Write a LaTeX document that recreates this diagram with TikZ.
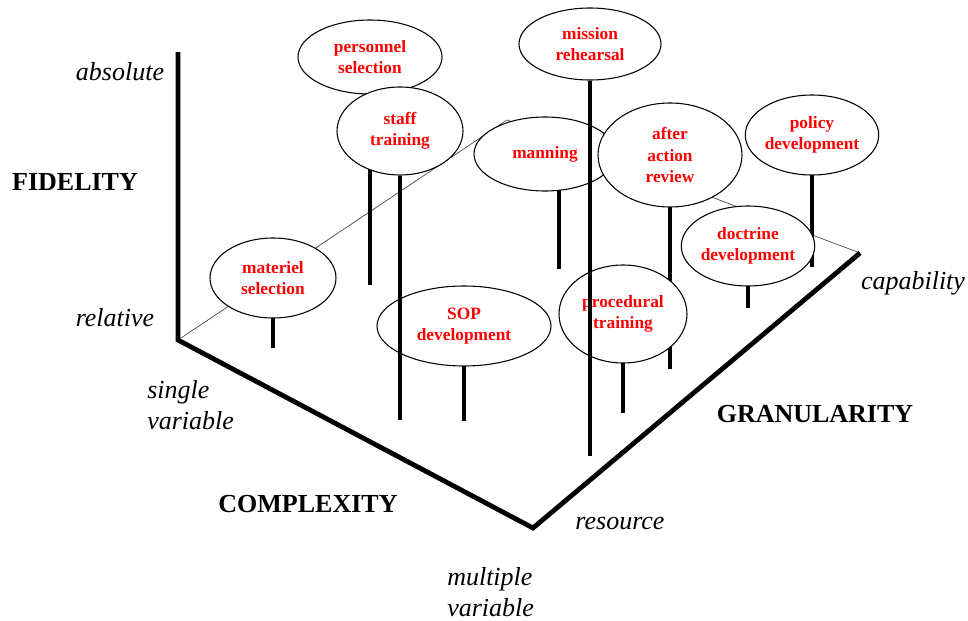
\documentclass[tikz,border=0pt]{standalone}
\usepackage{fontspec}
\setmainfont{Liberation Serif}
\usetikzlibrary{shapes,backgrounds,calc}
\tikzstyle{bubble} = [ellipse, draw, fill=white, line width=0.8pt, inner sep=0pt, text=red, align=center, font=\fontsize{13}{16}\selectfont\bfseries]
\tikzstyle{pole} = [line width=2.5pt]
\tikzstyle{mainaxis} = [line width=3.6pt]
\tikzstyle{floorline} = [line width=0.5pt, black!75]
\tikzstyle{endlabel} = [font=\fontsize{19.5}{23}\selectfont\itshape, align=left, inner sep=0pt]
\tikzstyle{dimlabel} = [font=\fontsize{19.5}{23}\selectfont\bfseries, inner sep=0pt]

\begin{document}
\begin{tikzpicture}[x=0.75pt, y=-0.75pt]
    \useasboundingbox (0,0) rectangle (968,621);

    \coordinate (top) at (178,52);
    \coordinate (corner) at (178,340);
    \coordinate (front) at (533,528);
    \coordinate (right) at (860,253);
    \coordinate (back) at (507,120);

    \node[bubble, minimum width=108pt, minimum height=55.5pt] (personnel) at (370,57) {personnel\\selection};
    \node[bubble, minimum width=106.5pt, minimum height=54pt] (mission) at (590,44) {mission\\rehearsal};
    \node[bubble, minimum width=94.5pt, minimum height=66pt] (staff) at (400,131) {staff\\training};
    \node[bubble, minimum width=106.5pt, minimum height=55.5pt] (manning) at (545,154) {manning};
    \node[bubble, minimum width=84pt, minimum height=60pt] (policy) at (812,135) {policy\\development};
    \node[bubble, minimum width=108pt, minimum height=78pt] (aar) at (670,155) {after\\action\\review};
    \node[bubble, minimum width=94.5pt, minimum height=60pt] (doctrine) at (748,246) {doctrine\\development};
    \node[bubble, minimum width=94.5pt, minimum height=60pt] (materiel) at (273,278) {materiel\\selection};
    \node[bubble, minimum width=130.5pt, minimum height=60pt] (sop) at (464,326) {SOP\\development};
    \node[bubble, minimum width=96pt, minimum height=73.5pt] (procedural) at (623,314) {procedural\\training};

    \coordinate (personnelfoot) at (370,285);
    \coordinate (missionfoot) at (590,456);
    \coordinate (stafffoot) at (400,420);
    \coordinate (manningfoot) at (559,269);
    \coordinate (policyfoot) at (812,267);
    \coordinate (aarfoot) at (670,369);
    \coordinate (doctrinefoot) at (748,308);
    \coordinate (materielfoot) at (273,348);
    \coordinate (sopfoot) at (464,421);
    \coordinate (proceduralfoot) at (623,413);

    \begin{scope}[on background layer]
        \draw[floorline] (corner) -- (back) -- (right);
        \draw[pole] (personnel.center) -- (personnelfoot);
        \draw[pole] (manning.center -| manningfoot) -- (manningfoot);
        \draw[pole] (policy.center) -- (policyfoot);
        \draw[pole] (aar.center) -- (aarfoot);
        \draw[pole] (doctrine.center) -- (doctrinefoot);
        \draw[pole] (materiel.center) -- (materielfoot);
        \draw[pole] (sop.center) -- (sopfoot);
        \draw[pole] (procedural.center) -- (proceduralfoot);
    \end{scope}
    \draw[pole] (staff.south) -- (stafffoot);
    \draw[pole] (mission.south) -- (missionfoot);

    \draw[mainaxis] (top) -- (corner) -- (front) -- (right);

    \node[endlabel] (absolute) at (120,72) {absolute};
    \node[endlabel] (relative) at (115,318) {relative};
    \node[dimlabel] (fidelity) at (75,182) {FIDELITY};
    \node[endlabel, anchor=west] (single) at (147,405) {single\\variable};
    \node[dimlabel] (complexity) at (308,504) {COMPLEXITY};
    \node[endlabel, anchor=west] (multiple) at (447,592) {multiple\\variable};
    \node[endlabel] (resource) at (620,524) {resource};
    \node[dimlabel] (granularity) at (815,414) {GRANULARITY};
    \node[endlabel] (capability) at (913,283) {capability};
\end{tikzpicture}
\end{document}
